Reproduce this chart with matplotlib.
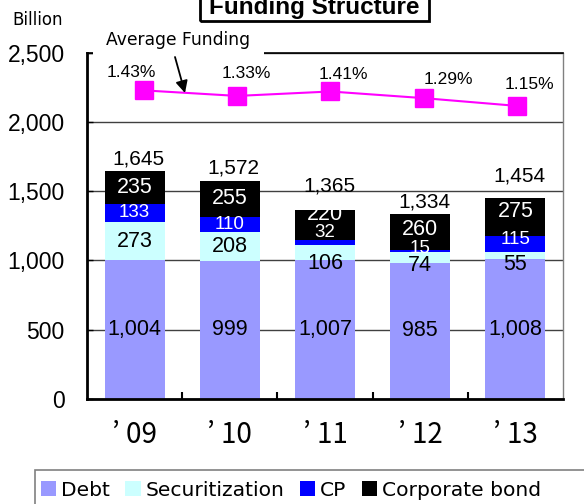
import numpy as np
import matplotlib
matplotlib.use('Agg')
import matplotlib.pyplot as plt
from matplotlib.patches import Rectangle, Patch
from matplotlib.ticker import FuncFormatter

# ---------------- data ----------------
years = ['’ 09', '’ 10', '’ 11', '’ 12', '’ 13']
series_names = ['Debt', 'Securitization', 'CP', 'Corporate bond']
debt = [1004, 999, 1007, 985, 1008]
securitization = [273, 208, 106, 74, 55]
cp = [133, 110, 32, 15, 115]
corporate_bond = [235, 255, 220, 260, 275]
totals = [1645, 1572, 1365, 1334, 1454]
avg_rate = [1.43, 1.33, 1.41, 1.29, 1.15]
y_ticks = [0, 500, 1000, 1500, 2000, 2500]

# ---------------- styles / label placement ----------------
colors = ['#9999FF', '#CCFFFF', '#0000FF', '#000000']
label_colors = ['black', 'black', 'white', 'white']
label_sizes = [15.5, 15.5, 13.5, 15.5]
# vertical nudges of segment labels (value units), as placed in the original
seg_nudge = [[0, 0, 0, 0, 0],
             [0, 0, -85, -58, -63],
             [0, 0, 74, 23, 33],
             [0, 0, 80, 23, 37]]
total_nudge = [84, 94, 173, 88, 156]
rate_dx = [-13, 9, 13, 25, 12.5]
rate_dy = [17.5, 22.5, 16.7, 19, 21]

NUM = 'Liberation Sans'
CJK = 'Noto Sans CJK JP'

W, H = 584, 504
fig = plt.figure(figsize=(W / 100, H / 100), dpi=100)
ax = fig.add_axes([87 / W, 1 - 399 / H, 476 / W, 346.3 / H])

x = np.arange(len(years))
bw = 0.63
series = [debt, securitization, cp, corporate_bond]
bottom = np.zeros(len(years))
for i, (vals, col, name) in enumerate(zip(series, colors, series_names)):
    vals = np.array(vals, dtype=float)
    ax.bar(x, vals, bw, bottom=bottom, color=col, label=name, zorder=2, linewidth=0)
    for j in range(len(years)):
        yc = bottom[j] + vals[j] / 2 + seg_nudge[i][j]
        ax.text(x[j], yc, f'{int(vals[j]):,}', ha='center', va='center',
                color=label_colors[i], fontsize=label_sizes[i],
                family=NUM, zorder=4)
    bottom += vals

for j in range(len(years)):
    ax.annotate(f'{totals[j]:,}', (x[j], totals[j] + total_nudge[j]),
                xytext=(4, 0), textcoords='offset pixels',
                ha='center', va='center', fontsize=15, family=NUM, zorder=4)

ax.set_xlim(-0.5, len(years) - 0.5)
ax.set_ylim(0, 2500)
ax.set_yticks(y_ticks)
ax.yaxis.set_major_formatter(FuncFormatter(lambda v, p: f'{int(v):,}'))
ax.tick_params(axis='y', direction='in', length=4, width=1, pad=16, labelsize=16.5)
for lbl in ax.get_yticklabels():
    lbl.set_family(NUM)
ax.set_xticks(x, years)
ax.tick_params(axis='x', which='major', length=0, pad=15, labelsize=20)
for lbl in ax.get_xticklabels():
    lbl.set_family([CJK, 'DejaVu Sans'])
ax.set_xticks(np.arange(0.5, len(years) - 1, 1.0), minor=True)
ax.tick_params(axis='x', which='minor', direction='in', length=5, width=1.5)

ax.yaxis.grid(True, color='#404040', linewidth=1, zorder=1)
ax.set_axisbelow(True)
ax.spines['left'].set_linewidth(2)
ax.spines['bottom'].set_linewidth(2)
ax.spines['top'].set_linewidth(1.2)
ax.spines['right'].set_color('#808080')
ax.spines['right'].set_linewidth(1)

# ---------------- average funding line (secondary scale) ----------------
lax = fig.add_axes(ax.get_position().bounds)
lax.set_xlim(-0.611, 4.494)
lax.set_ylim(-4.14, 2.11)
lax.axis('off')
lax.patch.set_alpha(0)
lax.plot(x, avg_rate, color='#FF00FF', lw=1.5, marker='s', ms=13,
         mfc='#FF00FF', mec='#FF00FF', zorder=3)
for j, r in enumerate(avg_rate):
    lax.annotate(f'{r:.2f}%', (x[j], r), xytext=(rate_dx[j], rate_dy[j]),
                 textcoords='offset pixels', ha='center', va='center',
                 fontsize=12.5, family=NUM)

lax.annotate('Average Funding', xy=(178.5, H - 45), xycoords='figure pixels',
             ha='center', va='baseline', fontsize=12.3, family='DejaVu Sans',
             bbox=dict(boxstyle='square,pad=0.8', fc='white', ec='none'), zorder=5)
lax.annotate('', xy=(185, H - 93), xytext=(175, H - 57), xycoords='figure pixels',
             textcoords='figure pixels',
             arrowprops=dict(arrowstyle='-|>', color='black', lw=1.3,
                             mutation_scale=18, shrinkA=0, shrinkB=0), zorder=6)

# ---------------- title, unit ----------------
fig.patches.append(Rectangle((200 / W, 1 - 21 / H), 229 / W, 60 / H,
                             transform=fig.transFigure, fill=False,
                             ec='black', lw=2))
fig.text(314.5 / W, 1 - 14 / H, 'Funding Structure', ha='center', va='baseline',
         fontsize=17.5, fontweight='bold', family='Liberation Sans')
fig.text(12 / W, 1 - 25 / H, 'Billion', ha='left', va='baseline',
         fontsize=12, family='DejaVu Sans')

# ---------------- legend ----------------
fig.patches.append(Rectangle((35 / W, -0.1), (620 - 35) / W, 0.1 + 1 - 470 / H,
                             transform=fig.transFigure, fill=False,
                             ec='#808080', lw=1.2))
handles = [Patch(facecolor=c, edgecolor='none') for c in colors]
fig.legend(handles, series_names, loc='center left',
           bbox_to_anchor=(41 / W, 1 - 490 / H), ncol=4, frameon=False,
           prop={'family': 'DejaVu Sans', 'size': 14.6},
           handlelength=0.75, handleheight=0.75, handletextpad=0.25,
           columnspacing=0.75, borderaxespad=0, borderpad=0)

fig.savefig('out.png', dpi=100)
